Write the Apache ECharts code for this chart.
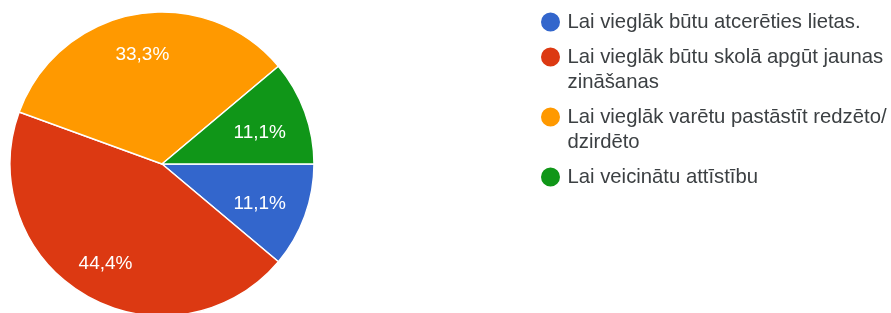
<!DOCTYPE html>
<html><head><meta charset="utf-8">
<script src="https://cdn.jsdelivr.net/npm/echarts@6/dist/echarts.min.js"></script>
<style>html,body{margin:0;padding:0;background:#fff}#c{width:891px;height:313px}</style>
</head><body><div id="c"></div>
<script>
const categories = [
  'Lai vieglāk būtu atcerēties lietas.',
  'Lai vieglāk būtu skolā apgūt jaunas zināšanas',
  'Lai vieglāk varētu pastāstīt redzēto/dzirdēto',
  'Lai veicinātu attīstību'
];
const values = [1, 4, 3, 1];
const colors = ['#3366cc', '#dc3912', '#ff9900', '#109618'];

const total = values.reduce((a, b) => a + b, 0);
const data = categories.map((n, i) => ({ name: n, value: values[i], itemStyle: { color: colors[i] } }));
const pct = v => (v / total * 100).toFixed(1).replace('.', ',') + '%';
const font = 'Arial, "Liberation Sans", sans-serif';

// layout constants
const FS = 20.3, LH = 25, GAP = 10, TW = 321;
const LEG_LEFT = 539, LEG_FIRST = 22, ICON = 21, ICON_W = 24;
const CX = 162, CY = 164, R = 152;

// word wrap (breaks after spaces and '/') so the first line can sit beside the icon
const ctx = document.createElement('canvas').getContext('2d');
ctx.font = FS + 'px ' + font;
function wrap(text) {
  const tokens = text.match(/[^ \/]+[ \/]?/g);
  const lines = [];
  let cur = '';
  tokens.forEach(t => {
    if (cur && ctx.measureText((cur + t).trimEnd()).width > TW) { lines.push(cur.trimEnd()); cur = t; }
    else cur += t;
  });
  if (cur) lines.push(cur.trimEnd());
  return lines;
}

const wrapped = categories.map(wrap);
let y = LEG_FIRST;
const legends = categories.map((n, i) => {
  const lines = wrapped[i];
  const blockH = LH * (lines.length > 1 ? lines.length * 2 - 1 : 1);
  const top = y - Math.max(ICON / 2, blockH / 2);
  y += LH * lines.length + GAP;
  return {
    orient: 'vertical', left: LEG_LEFT, top: top, padding: 0,
    icon: 'circle', itemWidth: ICON_W, itemHeight: ICON,
    selectedMode: false,
    data: [n],
    formatter: () => lines.length > 1 ? '\n'.repeat(lines.length - 1) + lines.join('\n') : lines[0],
    textStyle: { fontFamily: font, fontSize: FS, color: '#3c4043', lineHeight: LH }
  };
});

const labelBase = { show: true, position: 'inside', color: '#fff', fontSize: 19, fontFamily: font };
const overlay = (radius, dy, showIf) => ({
  type: 'pie', center: [CX, CY], radius: radius, startAngle: 0, clockwise: true,
  data: data.map(d => ({ name: d.name, value: d.value, itemStyle: { color: 'transparent' } })),
  silent: true, legendHoverLink: false,
  label: Object.assign({}, labelBase, { offset: [0, dy], formatter: p => showIf(p.percent) ? pct(p.value) : '' }),
  labelLine: { show: false }, emphasis: { disabled: true }
});

const chart = echarts.init(document.getElementById('c'));
chart.setOption({
  animation: false,
  legend: legends,
  series: [{
    type: 'pie', center: [CX, CY], radius: R, startAngle: 0, clockwise: true,
    data: data,
    itemStyle: { borderColor: '#fff', borderWidth: 1.5 },
    label: { show: false }, labelLine: { show: false }, emphasis: { disabled: true }
  },
  overlay([94, 108], 4.5, p => p < 20),
  overlay([102, 118], 2, p => p >= 20)
  ]
});
</script></body></html>
